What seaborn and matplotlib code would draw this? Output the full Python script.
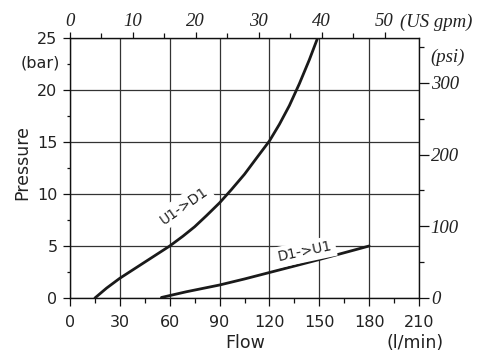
import numpy as np
import pandas as pd
import matplotlib
matplotlib.use("Agg")
import matplotlib.pyplot as plt
import seaborn as sns

# ---- data ----
u1d1_flow = [15, 22, 30, 45, 60, 68, 75, 82, 90, 97, 105, 112, 120, 126, 132, 138, 144, 149]
u1d1_pressure = [0.0, 0.95, 1.9, 3.45, 5.0, 5.95, 6.85, 7.9, 9.15, 10.4, 11.9, 13.4,
                 15.1, 16.7, 18.5, 20.6, 22.9, 25.0]
d1u1_flow = [55, 70, 90, 105, 120, 135, 150, 165, 180]
d1u1_pressure = [0.05, 0.6, 1.25, 1.83, 2.45, 3.07, 3.7, 4.35, 5.0]

x_ticks = [0, 30, 60, 90, 120, 150, 180, 210]
y_ticks = [0, 5, 10, 15, 20, 25]
gpm_ticks = [0, 10, 20, 30, 40, 50]
psi_ticks = [0, 100, 200, 300]

LPM_PER_GPM = 3.785
PSI_PER_BAR = 14.5038

df = pd.concat([
    pd.DataFrame({"flow": u1d1_flow, "pressure": u1d1_pressure, "series": "U1->D1"}),
    pd.DataFrame({"flow": d1u1_flow, "pressure": d1u1_pressure, "series": "D1->U1"}),
])

sns.set_style("ticks")
plt.rcParams["font.family"] = ["DejaVu Sans"]

fig = plt.figure(figsize=(4.8, 3.56), dpi=100)
ax = fig.add_axes([70 / 480, 58 / 356, 349 / 480, 260 / 356])

sns.lineplot(data=df, x="flow", y="pressure", hue="series", units="series",
             estimator=None, sort=False, palette=["#1a1a1a", "#1a1a1a"],
             linewidth=2.0, legend=False, ax=ax, zorder=3)
for ln in ax.get_lines():
    ln.set_solid_joinstyle("round")
    ln.set_solid_capstyle("round")

ax.set_xlim(0, 210)
ax.set_ylim(0, 25)
ax.set_xticks(x_ticks)
ax.set_xticks(np.arange(15, 210, 30), minor=True)
ax.set_yticks(y_ticks)
ax.set_yticks(np.arange(2.5, 25, 5), minor=True)
ax.set_xlabel("")
ax.set_ylabel("")

ax.grid(True, which="major", color="#333333", linewidth=0.9)
ax.set_axisbelow(True)
for s in ax.spines.values():
    s.set_visible(True)
    s.set_color("#111111")
    s.set_linewidth(1.0)

ax.tick_params(axis="x", which="major", direction="out", length=5.8, width=0.9,
               pad=6.3, labelsize=11.5, colors="#111111", labelcolor="#222222")
ax.tick_params(axis="x", which="minor", direction="out", length=3.6, width=0.9, colors="#111111")
ax.tick_params(axis="y", which="major", direction="out", length=5.0, width=0.9,
               pad=4.0, labelsize=11.5, colors="#111111", labelcolor="#222222")
ax.tick_params(axis="y", which="minor", direction="out", length=2.5, width=0.9, colors="#111111")

serif = dict(family="Liberation Serif", style="italic")

# top axis: US gpm
sec_x = ax.secondary_xaxis("top", functions=(lambda v: v / LPM_PER_GPM, lambda g: g * LPM_PER_GPM))
sec_x.set_xticks(gpm_ticks)
sec_x.set_xticks(np.arange(5, 50, 10), minor=True)
sec_x.tick_params(which="major", direction="out", length=4.3, width=0.9, pad=1.5,
                  labelsize=13.5, colors="#111111", labelcolor="#222222")
sec_x.tick_params(which="minor", direction="out", length=3.4, width=0.9, colors="#111111")
for t in sec_x.get_xticklabels():
    t.set_fontfamily("Liberation Serif")
    t.set_fontstyle("italic")
sec_x.spines["top"].set_visible(False)

# right axis: psi
sec_y = ax.secondary_yaxis("right", functions=(lambda b: b * PSI_PER_BAR, lambda p: p / PSI_PER_BAR))
sec_y.set_yticks(psi_ticks)
sec_y.set_yticks([50, 150, 250, 350], minor=True)
sec_y.tick_params(which="major", direction="out", length=7.0, width=0.9, pad=1.5,
                  labelsize=13.5, colors="#111111", labelcolor="#222222")
sec_y.tick_params(which="minor", direction="out", length=3.6, width=0.9, colors="#111111")
for t in sec_y.get_yticklabels():
    t.set_fontfamily("Liberation Serif")
    t.set_fontstyle("italic")
sec_y.spines["right"].set_visible(False)

# unit annotations
ax.annotate("(US gpm)", xy=(50 * LPM_PER_GPM, 1), xycoords=("data", "axes fraction"),
            xytext=(11, 8.0), textcoords="offset points", ha="left", va="baseline",
            fontsize=13.5, color="#222222", **serif)
ax.annotate("(psi)", xy=(1, 23.1), xycoords=("axes fraction", "data"),
            xytext=(8.5, 0), textcoords="offset points", ha="left", va="center",
            fontsize=13.5, color="#222222", **serif)
ax.annotate("(bar)", xy=(0, 22.6), xycoords=("axes fraction", "data"),
            xytext=(-7.3, 0), textcoords="offset points", ha="right", va="center",
            fontsize=11.5, color="#222222")

# curve labels
box = dict(facecolor="white", edgecolor="none", pad=2.5)
ax.text(68.5, 8.9, "U1->D1", rotation=35, ha="center", va="center",
        fontsize=10, color="#222222", bbox=box, zorder=4, rotation_mode="anchor")
ax.text(141.5, 4.45, "D1->U1", rotation=12, ha="center", va="center",
        fontsize=10, color="#222222", bbox=box, zorder=4, rotation_mode="anchor")

# axis titles
fig.text(22 / 480, 1 - 163 / 356, "Pressure", rotation=90, ha="center", va="center",
         fontsize=12.5, color="#222222")
fig.text(245 / 480, 1 - 343 / 356, "Flow", ha="center", va="center",
         fontsize=12.5, color="#222222")
fig.text(415 / 480, 1 - 343 / 356, "(l/min)", ha="center", va="center",
         fontsize=12.5, color="#222222")

fig.savefig("out.png", dpi=100)
